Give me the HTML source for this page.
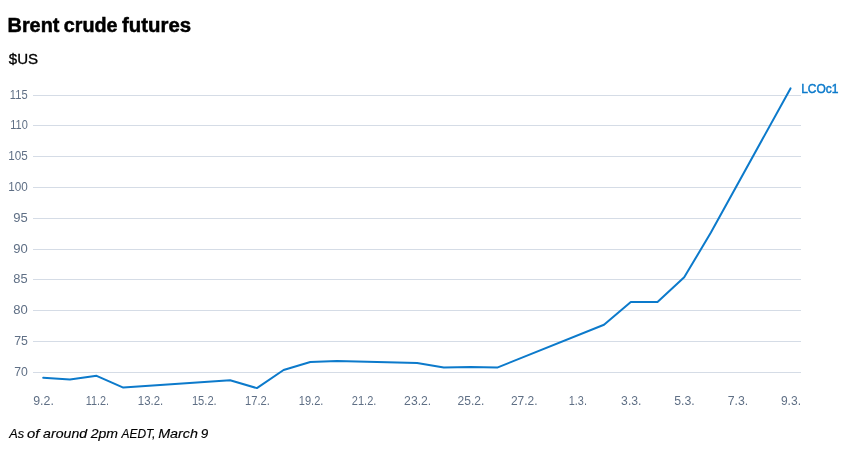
<!DOCTYPE html>
<html><head><meta charset="utf-8"><title>Brent crude futures</title>
<style>
html,body{margin:0;padding:0;background:#fff;}
body{width:854px;height:450px;overflow:hidden;font-family:"Liberation Sans",sans-serif;}
svg{display:block}
svg text{font-family:"Liberation Sans",sans-serif;}
.title{font-size:20px;font-weight:700;fill:#000;stroke:#000;stroke-width:0.5px;}
.sub{font-size:14px;fill:#000;stroke:#000;stroke-width:0.3px;}
.tick{font-size:12.6px;fill:#5f6f85;}
.note{font-size:12.6px;font-style:italic;fill:#000;stroke:#000;stroke-width:0.15px;}
.lab{font-size:12.2px;font-weight:400;fill:#0c7acb;stroke:#0c7acb;stroke-width:0.45px;}
</style></head><body>
<svg width="854" height="450" viewBox="0 0 854 450">
<rect width="854" height="450" fill="#fff"/>
<text class="title"><tspan x="7.51" y="32" textLength="51.99" lengthAdjust="spacingAndGlyphs">Brent</tspan> <tspan x="63.80" y="32" textLength="53.71" lengthAdjust="spacingAndGlyphs">crude</tspan> <tspan x="122.05" y="32" textLength="69.03" lengthAdjust="spacingAndGlyphs">futures</tspan></text>

<text class="sub" x="8.84" y="64.2" textLength="29.34" lengthAdjust="spacingAndGlyphs">$US</text>

<g>
<rect x="33" y="95" width="768" height="1" fill="#d5dce6"/>
<rect x="33" y="125" width="768" height="1" fill="#d5dce6"/>
<rect x="33" y="156" width="768" height="1" fill="#d5dce6"/>
<rect x="33" y="187" width="768" height="1" fill="#d5dce6"/>
<rect x="33" y="218" width="768" height="1" fill="#d5dce6"/>
<rect x="33" y="249" width="768" height="1" fill="#d5dce6"/>
<rect x="33" y="279" width="768" height="1" fill="#d5dce6"/>
<rect x="33" y="310" width="768" height="1" fill="#d5dce6"/>
<rect x="33" y="341" width="768" height="1" fill="#d5dce6"/>
<rect x="33" y="372" width="768" height="1" fill="#d5dce6"/>
</g>
<text class="tick" x="9.86" y="98.9" textLength="17.77" lengthAdjust="spacingAndGlyphs">115</text>
<text class="tick" x="10.33" y="128.9" textLength="17.50" lengthAdjust="spacingAndGlyphs">110</text>
<text class="tick" x="8.15" y="159.9" textLength="19.50" lengthAdjust="spacingAndGlyphs">105</text>
<text class="tick" x="8.15" y="190.9" textLength="19.50" lengthAdjust="spacingAndGlyphs">100</text>
<text class="tick" x="13.32" y="221.9" textLength="14.51" lengthAdjust="spacingAndGlyphs">95</text>
<text class="tick" x="13.28" y="252.9" textLength="14.51" lengthAdjust="spacingAndGlyphs">90</text>
<text class="tick" x="13.39" y="282.9" textLength="14.32" lengthAdjust="spacingAndGlyphs">85</text>
<text class="tick" x="13.28" y="313.9" textLength="14.51" lengthAdjust="spacingAndGlyphs">80</text>
<text class="tick" x="14.16" y="344.9" textLength="13.73" lengthAdjust="spacingAndGlyphs">75</text>
<text class="tick" x="14.15" y="375.9" textLength="13.61" lengthAdjust="spacingAndGlyphs">70</text>
<text class="tick" x="33.26" y="404.8" textLength="20.62" lengthAdjust="spacingAndGlyphs">9.2.</text>
<text class="tick" x="85.70" y="404.8" textLength="23.30" lengthAdjust="spacingAndGlyphs">11.2.</text>
<text class="tick" x="137.87" y="404.8" textLength="25.36" lengthAdjust="spacingAndGlyphs">13.2.</text>
<text class="tick" x="191.90" y="404.8" textLength="24.81" lengthAdjust="spacingAndGlyphs">15.2.</text>
<text class="tick" x="245.12" y="404.8" textLength="24.82" lengthAdjust="spacingAndGlyphs">17.2.</text>
<text class="tick" x="298.82" y="404.8" textLength="24.60" lengthAdjust="spacingAndGlyphs">19.2.</text>
<text class="tick" x="351.80" y="404.8" textLength="24.53" lengthAdjust="spacingAndGlyphs">21.2.</text>
<text class="tick" x="404.12" y="404.8" textLength="27.13" lengthAdjust="spacingAndGlyphs">23.2.</text>
<text class="tick" x="457.58" y="404.8" textLength="26.79" lengthAdjust="spacingAndGlyphs">25.2.</text>
<text class="tick" x="510.95" y="404.8" textLength="26.58" lengthAdjust="spacingAndGlyphs">27.2.</text>
<text class="tick" x="568.75" y="404.8" textLength="18.19" lengthAdjust="spacingAndGlyphs">1.3.</text>
<text class="tick" x="621.11" y="404.8" textLength="20.31" lengthAdjust="spacingAndGlyphs">3.3.</text>
<text class="tick" x="674.28" y="404.8" textLength="20.48" lengthAdjust="spacingAndGlyphs">5.3.</text>
<text class="tick" x="727.68" y="404.8" textLength="20.52" lengthAdjust="spacingAndGlyphs">7.3.</text>
<text class="tick" x="780.92" y="404.8" textLength="20.10" lengthAdjust="spacingAndGlyphs">9.3.</text>

<path d="M43.2 377.8 L69.9 379.6 L96.6 375.8 L123.3 387.6 L230.1 380.3 L256.9 388.1 L283.6 370.0 L310.3 362.0 L337.0 361.0 L417.1 363.1 L443.8 367.6 L470.5 366.9 L497.2 367.6 L604.0 324.7 L630.8 302.1 L657.5 302.1 L684.2 277.3 L710.9 232.6 L790.5 88.4" fill="none" stroke="#0c7acb" stroke-width="2" stroke-linejoin="round" stroke-linecap="round"/>
<text class="lab" x="801.14" y="92.7" textLength="37.30" lengthAdjust="spacingAndGlyphs">LCOc1</text>

<text class="note"><tspan x="9.18" y="437.7" textLength="14.90" lengthAdjust="spacingAndGlyphs">As</tspan> <tspan x="27.07" y="437.7" textLength="12.41" lengthAdjust="spacingAndGlyphs">of</tspan> <tspan x="43.11" y="437.7" textLength="44.02" lengthAdjust="spacingAndGlyphs">around</tspan> <tspan x="90.70" y="437.7" textLength="27.29" lengthAdjust="spacingAndGlyphs">2pm</tspan> <tspan x="121.50" y="437.7" textLength="31.80" lengthAdjust="spacingAndGlyphs">AEDT</tspan><tspan x="151.88" y="437.7">,</tspan> <tspan x="158.17" y="437.7" textLength="39.81" lengthAdjust="spacingAndGlyphs">March</tspan> <tspan x="200.68" y="437.7" textLength="7.48" lengthAdjust="spacingAndGlyphs">9</tspan></text>

</svg>
</body></html>
